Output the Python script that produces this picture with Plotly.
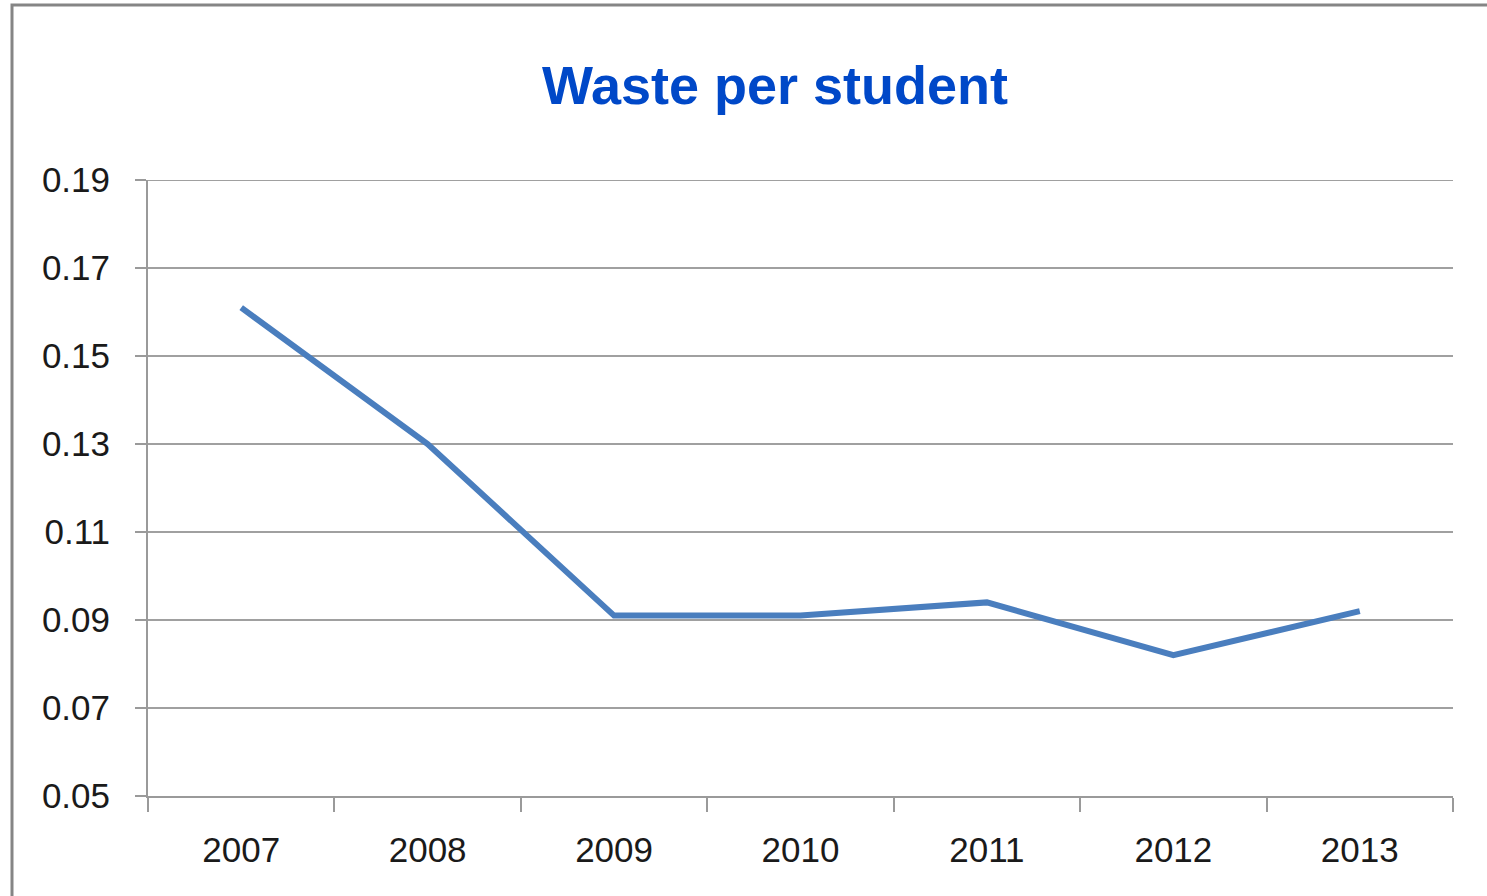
import plotly.graph_objects as go

years = ["2007", "2008", "2009", "2010", "2011", "2012", "2013"]
waste = [0.161, 0.130, 0.091, 0.091, 0.094, 0.082, 0.092]
y_ticks = [0.05, 0.07, 0.09, 0.11, 0.13, 0.15, 0.17, 0.19]

fig = go.Figure()
fig.add_trace(go.Scatter(
    x=years, y=waste, mode="lines",
    line=dict(color="#4A7EBE", width=6),
    showlegend=False, hoverinfo="x+y",
))

W, H = 1487, 896
L, T = 148, 180
R = W - 1453
B = H - 796
pw, ph = W - L - R, H - T - B

fig.update_layout(
    width=W, height=H,
    margin=dict(l=L, r=R, t=T, b=B),
    paper_bgcolor="white", plot_bgcolor="white",
    title=dict(text="<b>Waste per student</b>", x=775 / W, xanchor="center",
               y=1 - 85 / H, yanchor="middle",
               font=dict(family="Liberation Sans, Arial", size=54, color="#0048C8")),
    font=dict(family="Liberation Sans, Arial", color="#1a1a1a"),
)
fig.update_xaxes(
    type="category", tickson="boundaries", ticks="outside", ticklen=14,
    tickwidth=2, tickcolor="#9a9a9a", showline=True, linecolor="#9a9a9a",
    linewidth=2, showgrid=False, tickfont=dict(size=35, color="#1a1a1a"),
    ticklabelstandoff=22, range=[-0.5, 6.5],
)
fig.update_yaxes(
    range=[y_ticks[0], y_ticks[-1]], tickvals=y_ticks, tickformat=".2f", ticks="outside",
    ticklen=11, tickwidth=2, tickcolor="#9a9a9a", showline=True,
    linecolor="#9a9a9a", linewidth=2, showgrid=True, gridcolor="#a0a0a0",
    gridwidth=2, zeroline=False, tickfont=dict(size=35, color="#1a1a1a"),
    ticklabelstandoff=18,
)
# top gridline (Plotly drops gridlines at the range edge)
fig.add_shape(type="line", xref="paper", yref="y", x0=0, x1=1,
              y0=y_ticks[-1], y1=y_ticks[-1],
              line=dict(color="#a0a0a0", width=2), layer="below")
# outer chart border
fig.add_shape(type="rect", xref="paper", yref="paper",
              x0=(12 - L) / pw, x1=(W + 20 - L) / pw,
              y0=-(B + 20) / ph, y1=(H - B - 5) / ph,
              line=dict(color="#858585", width=3), fillcolor="rgba(0,0,0,0)",
              layer="above")
fig.write_html("out.html", config={"displayModeBar": False},
               post_script="document.body.style.margin='0px';")
